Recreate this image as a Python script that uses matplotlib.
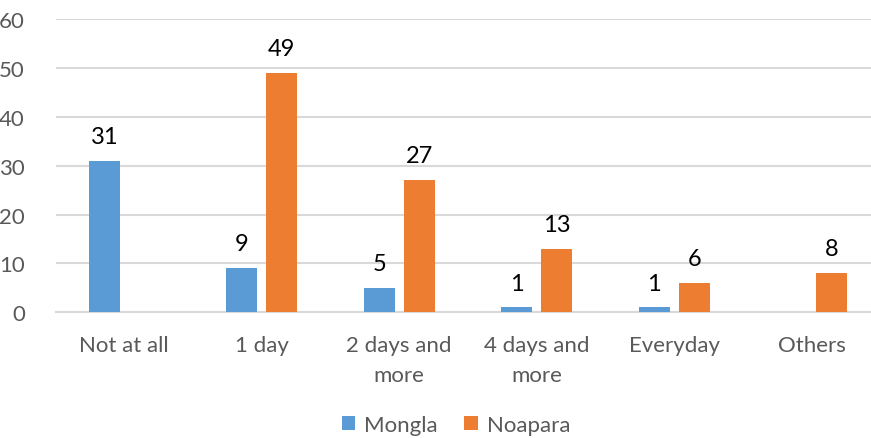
import numpy as np
import matplotlib
matplotlib.use("Agg")
import matplotlib.pyplot as plt

categories = ["Not at all", "1 day", "2 days and\nmore", "4 days and\nmore", "Everyday", "Others"]
mongla = [31, 9, 5, 1, 1, None]
noapara = [None, 49, 27, 13, 6, 8]
series_names = ["Mongla", "Noapara"]
yticks = [0, 10, 20, 30, 40, 50, 60]

plt.rcParams['font.family'] = ['Lato', 'DejaVu Sans']

fig = plt.figure(figsize=(8.71, 4.39), dpi=100)
W, H = 871, 439
left, right = 55.5, 880.5
bottom, top = 313.3, 20
ax = fig.add_axes([left / W, (H - bottom) / H, (right - left) / W, (bottom - top) / H])

x = np.arange(len(categories))
bw = 0.225
off = 0.145
colors = ["#5B9BD5", "#ED7D31"]

def tonum(v):
    return [np.nan if a is None else a for a in v]

for vals, o, c, name in [(mongla, -off, colors[0], series_names[0]), (noapara, off, colors[1], series_names[1])]:
    ax.bar(x + o, tonum(vals), width=bw, color=c, label=name, zorder=3)
    for xi, v in zip(x + o, vals):
        if v is not None:
            ax.annotate(str(v), (xi, v), xytext=(0, 10), textcoords="offset points",
                        ha="center", va="bottom", fontsize=17, color="black")

ax.set_xlim(-0.5, len(categories) - 0.5)
ax.set_ylim(0, 60)
ax.set_yticks(yticks)
ax.set_xticks(x)
ax.set_xticklabels(categories, fontsize=16, color="#595959", linespacing=1.65)
ax.tick_params(axis='y', labelsize=16, labelcolor="#595959", length=0, pad=22)
ax.tick_params(axis='x', length=0, pad=16)
ax.yaxis.grid(True, color="#D9D9D9", linewidth=1.5, zorder=0)
ax.set_axisbelow(True)
for s in ["top", "right", "left"]:
    ax.spines[s].set_visible(False)
ax.spines["bottom"].set_color("#D9D9D9")
ax.spines["bottom"].set_linewidth(1.5)

leg = fig.legend(loc="center", bbox_to_anchor=(456 / W, 1 - 426 / H), ncol=2, frameon=False,
                 fontsize=16, handlelength=0.6, handleheight=0.6, handletextpad=0.4, columnspacing=1.2)
for t in leg.get_texts():
    t.set_color("#595959")

fig.savefig("out.png", dpi=100)
